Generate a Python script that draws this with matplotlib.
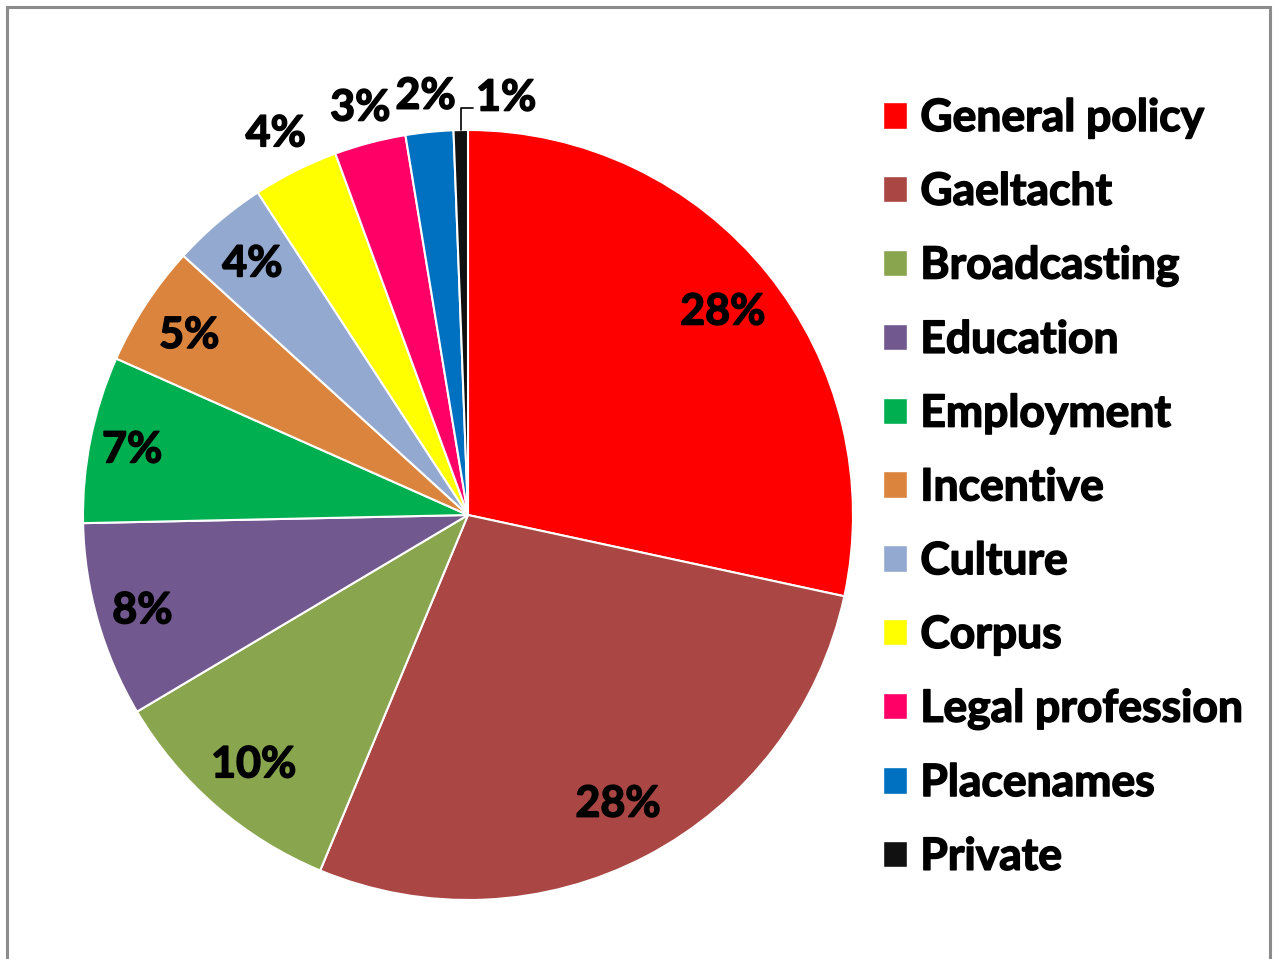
import numpy as np
import matplotlib
matplotlib.use('Agg')
import matplotlib.pyplot as plt
import matplotlib.patheffects as pe
from matplotlib.patches import Patch, Rectangle
from matplotlib.transforms import ScaledTranslation

plt.rcParams['font.family'] = ['Lato', 'DejaVu Sans']

categories = ['General policy', 'Gaeltacht', 'Broadcasting', 'Education', 'Employment',
              'Incentive', 'Culture', 'Corpus', 'Legal profession', 'Placenames', 'Private']
shares = [28.4, 27.9, 10.2, 8.2, 7.0, 5.1, 4.05, 3.6, 3.0, 2.0, 0.6]
colors = ['#FF0000', '#AA4643', '#89A54E', '#71588F', '#00B050', '#DB843D',
          '#93A9CF', '#FFFF00', '#FF0066', '#0070C0', '#111111']
# radial position of each percentage label (fraction of radius)
label_r = [0.85, 0.84, 0.85, 0.88, 0.89, 0.865, 0.865, 1.115, 1.10, 1.10, None]

FS = 31
heavy = [pe.withStroke(linewidth=1.1, foreground='black')]

fig = plt.figure(figsize=(12.74, 9.59), dpi=100)
# frame around chart area
fig.patches.append(Rectangle((7 / 1274, -0.05), 1263 / 1274, 1.05 - 7 / 959,
                             transform=fig.transFigure, fill=False,
                             edgecolor='#8c8c8c', linewidth=2.2))

ax = fig.add_axes([83 / 1274, 59 / 959, 770 / 1274, 770 / 959])
wedges, _ = ax.pie(shares, colors=colors, startangle=90, counterclock=False,
                   wedgeprops=dict(edgecolor='white', linewidth=1.5))
ax.set_xlim(-1, 1)
ax.set_ylim(-1, 1)
ax.set_aspect('equal')
ax.axis('off')

nudge = ax.transData + ScaledTranslation(0, -1.5 / 72, fig.dpi_scale_trans)
total = sum(shares)
for w, v, r in zip(wedges, shares, label_r):
    ang = np.deg2rad((w.theta1 + w.theta2) / 2)
    txt = '%.0f%%' % (v / total * 100 + 0.001)
    if r is None:
        # tiny slice: label with leader line
        ax.annotate(txt, xy=(np.cos(ang), np.sin(ang)), xytext=(11, 9),
                    textcoords='offset points', ha='left', va='bottom',
                    fontsize=FS, fontweight='bold', annotation_clip=False,
                    path_effects=heavy,
                    arrowprops=dict(arrowstyle='-', color='black', lw=1.2,
                                    shrinkA=0, shrinkB=0, relpos=(0, 0.24),
                                    connectionstyle='angle,angleA=0,angleB=90,rad=0'))
        continue
    ax.text(r * np.cos(ang), r * np.sin(ang), txt, ha='center', va='center',
            fontsize=FS, fontweight='bold', clip_on=False, transform=nudge,
            path_effects=heavy)

handles = [Patch(facecolor=c, edgecolor='white') for c in colors]
leg = fig.legend(handles, categories, loc='upper left',
                 bbox_to_anchor=(883 / 1274, 1 - 98 / 959),
                 frameon=False, prop=dict(size=32, weight='bold'),
                 borderpad=0, borderaxespad=0,
                 handlelength=0.54, handleheight=0.54, handletextpad=0.3,
                 labelspacing=0.76)
for t in leg.get_texts():
    t.set_path_effects(heavy)

fig.savefig('out.png', dpi=100)
